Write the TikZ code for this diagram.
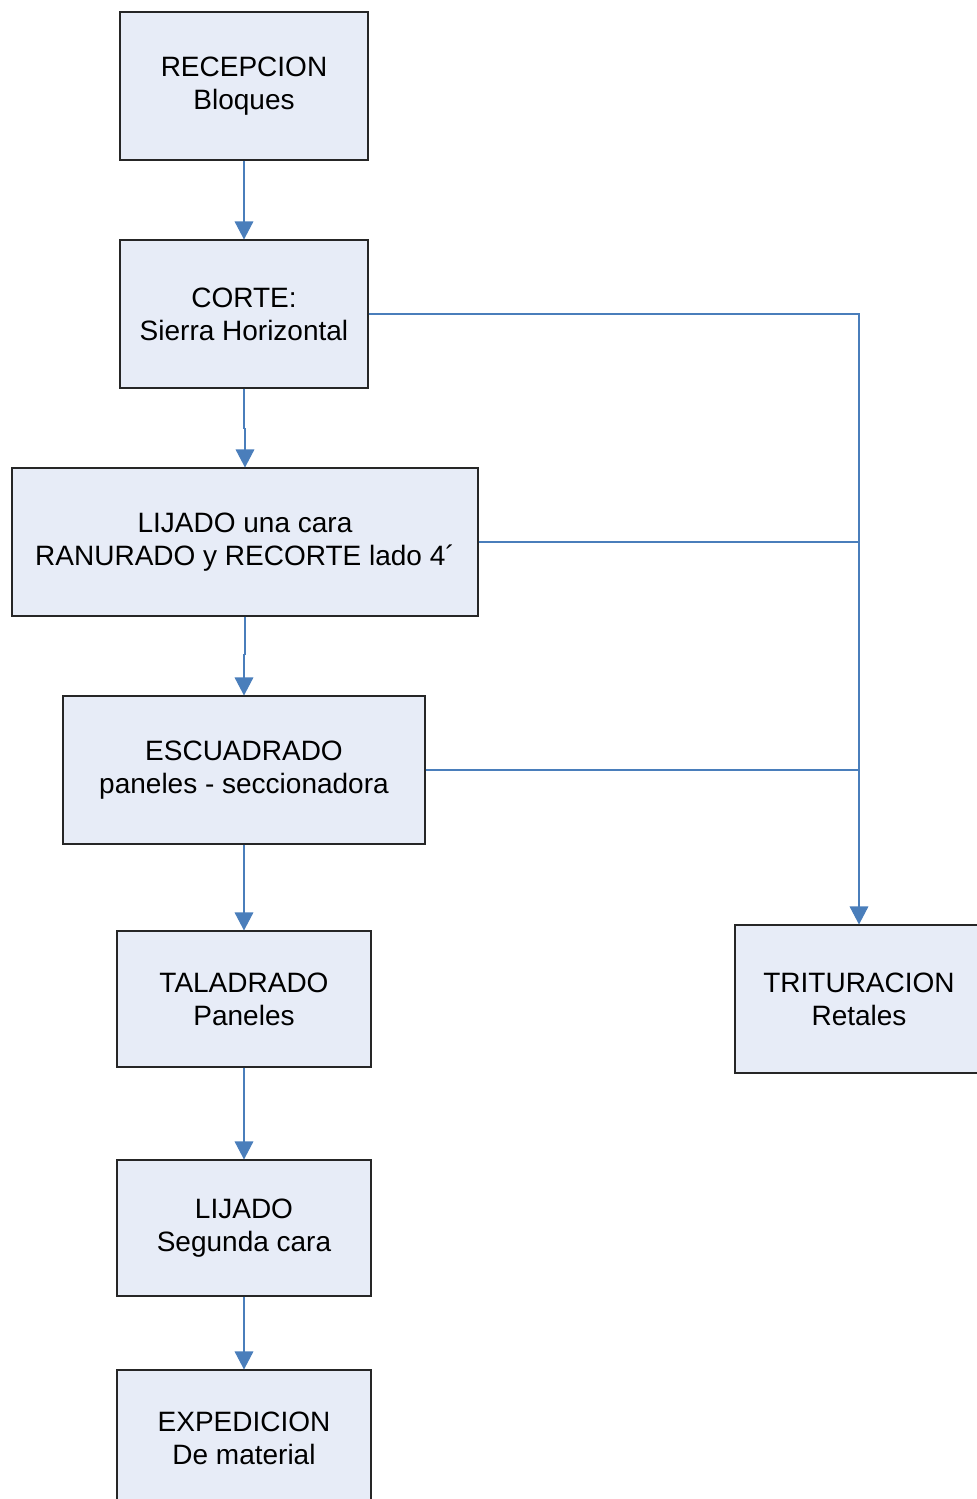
\documentclass[tikz,border=0pt]{standalone}
\usepackage{fontspec}
\setmainfont{Liberation Sans}
\usetikzlibrary{arrows.meta}
\definecolor{boxfill}{HTML}{E7ECF7}
\definecolor{flowblue}{HTML}{4A7EBB}

\begin{document}
\begin{tikzpicture}[x=0.75pt,y=-0.75pt,
    proc/.style 2 args={draw=black!85, fill=boxfill, line width=0.8pt,
        minimum width=#1*0.75pt, minimum height=#2*0.75pt, inner sep=0pt,
        align=center, font=\fontsize{21}{24.75}\selectfont},
    flowline/.style={draw=flowblue, line width=0.8pt},
    flow/.style={flowline, -{Triangle[width=14pt,length=13.5pt]}}]
    \useasboundingbox (0,0) rectangle (977,1499);

    % Main process column
    \node[proc={248}{148}] (recep) at (244,86) {RECEPCION\\Bloques};
    \node[proc={248}{148}] (corte) at (244,314) {CORTE:\\Sierra Horizontal};
    \node[proc={466}{148}] (lijado) at (245,542) {LIJADO una cara\\RANURADO y RECORTE lado 4´};
    \node[proc={362}{148}] (escuad) at (244,770) {ESCUADRADO\\paneles - seccionadora};
    \node[proc={254}{136}] (talad) at (244,999) {TALADRADO\\Paneles};
    \node[proc={254}{136}] (lijseg) at (244,1228) {LIJADO\\Segunda cara};
    \node[proc={254}{136}] (exped) at (244,1438) {EXPEDICION\\De material};

    % Waste branch
    \node[proc={248}{148}] (tritur) at (859,999) {TRITURACION\\Retales};

    % Arrows down the column
    \draw[flow] (recep) -- (corte);
    \draw[flow] (corte.south) -- ++(0,40) -| (lijado.north);
    \draw[flow] (lijado.south) -- ++(0,38) -| (escuad.north);
    \draw[flow] (escuad) -- (talad);
    \draw[flow] (talad) -- (lijseg);
    \draw[flow] (lijseg) -- (exped);

    % Offcuts to the shredder
    \draw[flow] (corte.east) -| (tritur.north);
    \draw[flowline] (lijado.east) -- (lijado.east -| tritur.north);
    \draw[flowline] (escuad.east) -- (escuad.east -| tritur.north);

\end{tikzpicture}
\end{document}
